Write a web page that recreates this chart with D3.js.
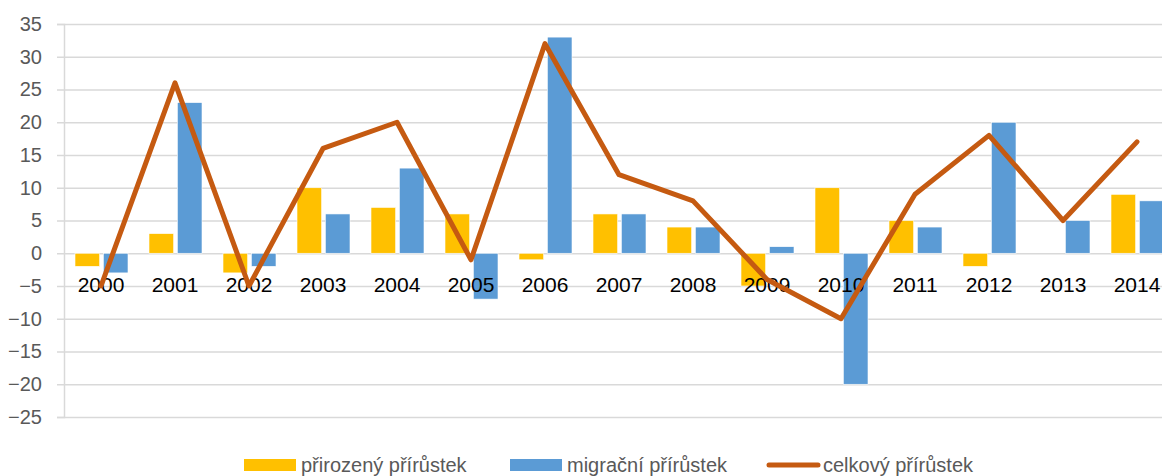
<html>
<head>
<script src="https://d3js.org/d3.v7.min.js"></script>
<style>
  body { margin: 0; background: white; }
  text { font-family: "Liberation Sans", Arial, sans-serif; }
</style>
</head>
<body>
<svg width="1162" height="476"></svg>
<script>
var years = ["2000","2001","2002","2003","2004","2005","2006","2007","2008","2009","2010","2011","2012","2013","2014"]
var prirozeny = [-2, 3, -3, 10, 7, 6, -1, 6, 4, -5, 10, 5, -2, 0, 9]
var migracni = [-3, 23, -2, 6, 13, -7, 33, 6, 4, 1, -20, 4, 20, 5, 8]
var celkovy = [-5, 26, -5, 16, 20, -1, 32, 12, 8, -4, -10, 9, 18, 5, 17]
var yTicks = [35, 30, 25, 20, 15, 10, 5, 0, -5, -10, -15, -20, -25]
var seriesNames = ["přirozený přírůstek", "migrační přírůstek", "celkový přírůstek"]

const colors = ["#FFC000", "#5B9BD5", "#C55A11"]
const plotLeft = 64, plotRight = 64 + 15 * 74, plotTop = 24, plotBottom = 417

var svg = d3.select("svg")

var x = d3.scaleBand().domain(years).range([plotLeft, plotRight]).paddingInner(0).paddingOuter(0)
var xi = d3.scaleBand().domain([0, 1]).range([11, 64]).paddingInner(0.13)
var y = d3.scaleLinear().domain([-25, 35]).range([plotBottom, plotTop])

// gridlines
svg.append("g")
  .attr("transform", "translate(" + plotLeft + ",0)")
  .call(d3.axisLeft(y).tickValues(yTicks).tickSize(-(1162 - plotLeft)).tickFormat(""))
  .call(g => g.select(".domain").remove())
  .selectAll("line").attr("stroke", "#D9D9D9").attr("stroke-width", 1.5)

// tick stubs + labels
var ya = svg.append("g")
  .attr("transform", "translate(" + plotLeft + ",0)")
  .call(d3.axisLeft(y).tickValues(yTicks).tickSize(7).tickPadding(15))
ya.select(".domain").attr("stroke", "#D9D9D9").attr("stroke-width", 1.5)
ya.selectAll("line").attr("stroke", "#D9D9D9").attr("stroke-width", 1.5)
ya.selectAll("text").attr("fill", "#595959").style("font-size", "20px")
  .style("font-family", "Liberation Sans, Arial, sans-serif")

var data = years.map((yr, i) => ({ year: yr, vals: [prirozeny[i], migracni[i]] }))

svg.append("g").selectAll("g").data(data).enter().append("g")
  .attr("transform", d => "translate(" + x(d.year) + ",0)")
  .selectAll("rect").data(d => d.vals.map((v, k) => ({ k: k, v: v }))).enter().append("rect")
  .attr("x", d => xi(d.k))
  .attr("width", xi.bandwidth())
  .attr("y", d => y(Math.max(0, d.v)))
  .attr("height", d => Math.abs(y(d.v) - y(0)))
  .attr("fill", d => colors[d.k])
  .attr("stroke", "white").attr("stroke-width", 0.6)

// x labels (at -5 level, like the category axis crossing)
svg.append("g").selectAll("text").data(years).enter().append("text")
  .attr("x", d => x(d) + x.bandwidth() / 2)
  .attr("y", y(0) + 39)
  .attr("text-anchor", "middle")
  .style("font-size", "21px")
  .attr("fill", "#000")
  .text(d => d)

// line
var line = d3.line()
  .x((d, i) => x(years[i]) + x.bandwidth() / 2)
  .y(d => y(d))
svg.append("path").datum(celkovy)
  .attr("d", line)
  .attr("fill", "none")
  .attr("stroke", colors[2])
  .attr("stroke-width", 5)
  .attr("stroke-linejoin", "round")
  .attr("stroke-linecap", "round")

// legend
var legX = [244, 510, 766]
var leg = svg.append("g")
seriesNames.forEach(function(name, i) {
  if (i < 2) {
    leg.append("rect").attr("x", legX[i]).attr("y", 459).attr("width", 52).attr("height", 12).attr("fill", colors[i])
  } else {
    leg.append("line").attr("x1", legX[i] + 3).attr("x2", legX[i] + 52).attr("y1", 465).attr("y2", 465)
      .attr("stroke", colors[i]).attr("stroke-width", 5).attr("stroke-linecap", "round")
  }
  leg.append("text").attr("x", legX[i] + 57).attr("y", 472)
    .attr("fill", "#595959").style("font-size", "20px").text(name)
})
</script>
</body>
</html>
